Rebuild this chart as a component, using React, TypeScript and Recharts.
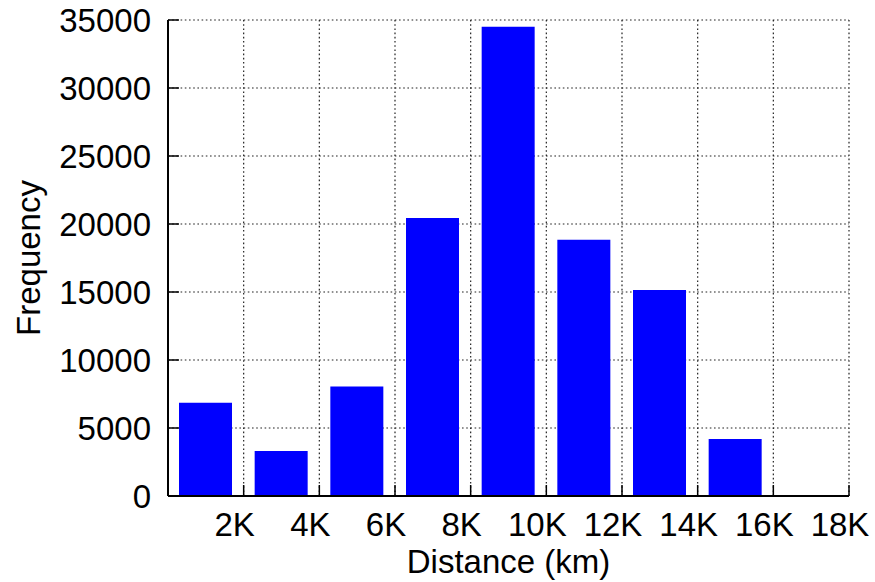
import { BarChart, Bar, XAxis, YAxis, CartesianGrid } from 'recharts';

// histogram bins (centre of each 2K bin) and counts
const binCenters = [1000, 3000, 5000, 7000, 9000, 11000, 13000, 15000, 17000];
const frequency = [6850, 3300, 8050, 20450, 34500, 18850, 15150, 4200, 0];

const xTicks = [2000, 4000, 6000, 8000, 10000, 12000, 14000, 16000, 18000];
const xTickLabels = ['2K', '4K', '6K', '8K', '10K', '12K', '14K', '16K', '18K'];
const yTicks = [0, 5000, 10000, 15000, 20000, 25000, 30000, 35000];

const data = binCenters.map((km, i) => ({ km, count: frequency[i] }));

const FONT = '"Liberation Sans", Arial, Helvetica, sans-serif';
const FS = 33;
const TICK_LEN = 11;

const BottomTick = (props: any) => {
    const { x, y, payload } = props;
    const i = xTicks.indexOf(payload.value);
    return (
        <g>
            <line x1={x} y1={y - 40} x2={x} y2={y - 40 - TICK_LEN} stroke="#000" strokeWidth={1.5} />
            <text x={x} y={y} dx={-9} textAnchor="middle" fontSize={FS} fontFamily={FONT} fill="#000">
                {i >= 0 ? xTickLabels[i] : ''}
            </text>
        </g>
    );
};

const TopTick = (props: any) => {
    const { x, y } = props;
    return <line x1={x} y1={y} x2={x} y2={y + TICK_LEN} stroke="#000" strokeWidth={1.5} />;
};

const LeftTick = (props: any) => {
    const { x, y, payload } = props;
    return (
        <g>
            <line x1={x + 17} y1={y} x2={x + 17 + TICK_LEN} y2={y} stroke="#000" strokeWidth={1.5} />
            <text x={x} y={y + 12} textAnchor="end" fontSize={FS} fontFamily={FONT} fill="#000">
                {payload.value}
            </text>
        </g>
    );
};

const RightTick = (props: any) => {
    const { x, y } = props;
    return <line x1={x} y1={y} x2={x - TICK_LEN} y2={y} stroke="#000" strokeWidth={1.5} />;
};

const YLabel = (props: any) => {
    const vb = props.viewBox || { x: 0, y: 20, width: 168, height: 476 };
    const cx = vb.x + 40;
    const cy = vb.y + vb.height / 2;
    return (
        <text x={cx} y={cy} transform={`rotate(-90, ${cx}, ${cy})`} textAnchor="middle"
            fontSize={FS} fontFamily={FONT} fill="#000">
            Frequency
        </text>
    );
};

const XLabel = (props: any) => {
    const vb = props.viewBox || { x: 168, y: 496, width: 681, height: 86 };
    return (
        <text x={vb.x + vb.width / 2} y={vb.y + 77} textAnchor="middle"
            fontSize={FS} fontFamily={FONT} fill="#000">
            Distance (km)
        </text>
    );
};

export default function App() {
    return (
        <div style={{ position: 'absolute', left: 0, top: 0, background: '#fff' }}>
            <BarChart width={875} height={582} data={data}
                margin={{ top: 20, right: 26, left: 0, bottom: 0 }}
            >
                <CartesianGrid xAxisId="b" yAxisId="l" stroke="#222" strokeWidth={1.2} strokeDasharray="1.6 2.6" />
                <XAxis xAxisId="b" dataKey="km" type="number" domain={[0, 18000]} ticks={xTicks}
                    allowDataOverflow interval={0} height={86}
                    axisLine={{ stroke: '#000', strokeWidth: 2 }} tickLine={false}
                    tickSize={0} tickMargin={40} tick={<BottomTick />}
                    label={<XLabel />}
                />
                <XAxis xAxisId="t" orientation="top" dataKey="km" type="number" domain={[0, 18000]}
                    ticks={xTicks} allowDataOverflow interval={0} height={0}
                    axisLine={{ stroke: '#000', strokeWidth: 2 }} tickLine={false}
                    tickSize={0} tickMargin={0} tick={<TopTick />}
                />
                <YAxis yAxisId="l" domain={[0, 35000]} ticks={yTicks} interval={0} width={168}
                    axisLine={{ stroke: '#000', strokeWidth: 2 }} tickLine={false}
                    tickSize={0} tickMargin={17} tick={<LeftTick />}
                    label={<YLabel />}
                />
                <YAxis yAxisId="r" orientation="right" domain={[0, 35000]} ticks={yTicks} interval={0}
                    width={0} axisLine={{ stroke: '#000', strokeWidth: 2 }} tickLine={false}
                    tickSize={0} tickMargin={0} tick={<RightTick />}
                />
                <Bar xAxisId="b" yAxisId="l" dataKey="count" fill="#0000ff" barSize={53}
                    isAnimationActive={false} />
            </BarChart>
        </div>
    );
}
